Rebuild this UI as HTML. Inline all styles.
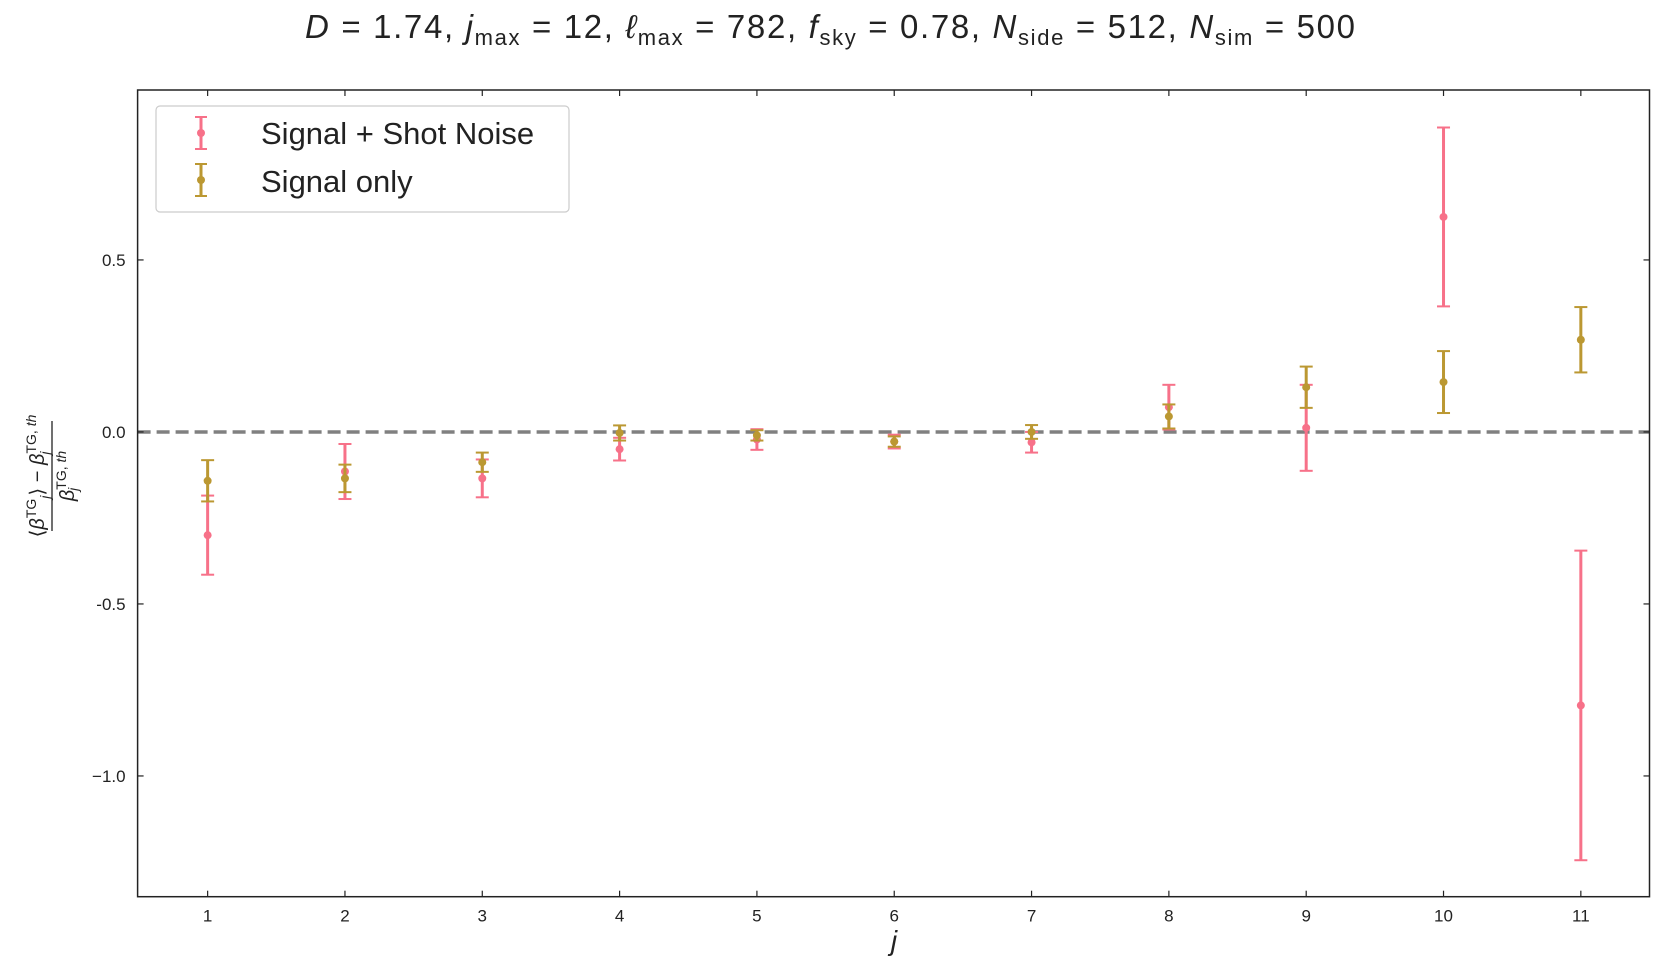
<!DOCTYPE html>
<html><head><meta charset="utf-8"><style>
body{margin:0;background:#fff;}
svg{display:block;font-family:"Liberation Sans","DejaVu Sans",sans-serif;}
</style></head><body>
<svg id="chart" width="1660" height="969" viewBox="0 0 1660 969">
<rect width="1660" height="969" fill="#fff"/>
<text x="830" y="38" text-anchor="middle" font-size="33" fill="#222" textLength="1050" lengthAdjust="spacing"><tspan font-style="italic">D</tspan> = 1.74,  <tspan font-style="italic">j</tspan><tspan font-size="22" dy="7">max</tspan><tspan dy="-7"> = 12,  </tspan><tspan font-style="italic">ℓ</tspan><tspan font-size="22" dy="7">max</tspan><tspan dy="-7"> = 782, </tspan><tspan font-style="italic">f</tspan><tspan font-size="22" dy="7">sky</tspan><tspan dy="-7"> = 0.78,  </tspan><tspan font-style="italic">N</tspan><tspan font-size="22" dy="7">side</tspan><tspan dy="-7"> = 512, </tspan><tspan font-style="italic">N</tspan><tspan font-size="22" dy="7">sim</tspan><tspan dy="-7"> = 500</tspan></text>
<g id="plot"></g>
<g id="legend">
<rect x="156" y="106" width="413" height="106" rx="4" fill="#fff" stroke="#ccc" stroke-width="1.2"/>
<g>
<line x1="201" y1="117" x2="201" y2="149" stroke="#f77189" stroke-width="3"/><line x1="195" y1="117" x2="207" y2="117" stroke="#f77189" stroke-width="2"/><line x1="195" y1="149" x2="207" y2="149" stroke="#f77189" stroke-width="2"/><circle cx="201" cy="133" r="4" fill="#f77189"/>
<text x="261" y="144" font-size="31" fill="#222">Signal + Shot Noise</text></g>
<g>
<line x1="201" y1="164" x2="201" y2="196" stroke="#bb9832" stroke-width="3"/><line x1="195" y1="164" x2="207" y2="164" stroke="#bb9832" stroke-width="2"/><line x1="195" y1="196" x2="207" y2="196" stroke="#bb9832" stroke-width="2"/><circle cx="201" cy="180" r="4" fill="#bb9832"/>
<text x="261" y="192" font-size="31" fill="#222">Signal only</text></g>
</g>
<g transform="translate(52,476) rotate(-90)">
<line x1="-55" y1="0" x2="55" y2="0" stroke="#222" stroke-width="1.3"/>
<text x="0" y="-8" text-anchor="middle" font-size="20" fill="#222">⟨<tspan font-style="italic">β</tspan><tspan font-size="14" dy="-8">TG</tspan><tspan font-size="14" dy="14" font-style="italic">j</tspan><tspan dy="-6">⟩ − </tspan><tspan font-style="italic">β</tspan><tspan font-size="14" dy="-8">TG, </tspan><tspan font-size="14" font-style="italic">th</tspan><tspan font-size="14" dy="14" dx="-40" font-style="italic">j</tspan></text>
<text x="0" y="22" text-anchor="middle" font-size="20" fill="#222"><tspan font-style="italic">β</tspan><tspan font-size="14" dy="-8">TG, </tspan><tspan font-size="14" font-style="italic">th</tspan><tspan font-size="14" dy="12" dx="-40" font-style="italic">j</tspan></text>
</g>
<text x="894" y="950" text-anchor="middle" font-size="28" font-style="italic" fill="#222">j</text>
</svg>
<script>
const categories=[1,2,3,4,5,6,7,8,9,10,11];
const shotNoiseMean=[-0.30,-0.115,-0.135,-0.05,-0.022,-0.028,-0.03,0.072,0.012,0.625,-0.795];
const shotNoiseErr=[0.115,0.08,0.055,0.033,0.03,0.02,0.03,0.065,0.125,0.26,0.45];
const signalMean=[-0.142,-0.135,-0.088,-0.003,-0.01,-0.028,0.0,0.045,0.13,0.145,0.268];
const signalErr=[0.06,0.04,0.028,0.022,0.015,0.015,0.02,0.035,0.06,0.09,0.095];
const yTicks=[-1.0,-0.5,0.0,0.5];
const yTickLabels=["−1.0","-0.5","0.0","0.5"];

const L=137.6,R=1649.5,T=90,B=896.7;
const xMin=0.49,xMax=11.5,yMin=-1.351,yMax=0.994;
const X=v=>L+(v-xMin)/(xMax-xMin)*(R-L);
const Y=v=>B-(v-yMin)/(yMax-yMin)*(B-T);
const NS="http://www.w3.org/2000/svg";
const g=document.getElementById('plot');
function mk(t,a,p){const e=document.createElementNS(NS,t);for(const k in a)e.setAttribute(k,a[k]);(p||g).appendChild(e);return e;}

const zero=mk('line',{x1:L,x2:R,y1:Y(0),y2:Y(0),stroke:'#808080','stroke-width':3.5,'stroke-dasharray':'13,6'});



function series(means,errs,color,name){
  const sg=mk('g',{});
  
  
  categories.forEach((c,i)=>{
    const x=X(c),y1=Y(means[i]+errs[i]),y2=Y(means[i]-errs[i]);
    const eg=mk('g',{},sg);
    
    
    mk('line',{x1:x,x2:x,y1:y1,y2:y2,stroke:color,'stroke-width':3},eg);
    mk('line',{x1:x-6.5,x2:x+6.5,y1:y1,y2:y1,stroke:color,'stroke-width':2},eg);
    mk('line',{x1:x-6.5,x2:x+6.5,y1:y2,y2:y2,stroke:color,'stroke-width':2},eg);
    mk('circle',{cx:x,cy:Y(means[i]),r:4,fill:color},eg);
  });
}
series(shotNoiseMean,shotNoiseErr,'#f77189','signal-shot-noise-series');
series(signalMean,signalErr,'#bb9832','signal-only-series');

const frame=mk('rect',{x:L,y:T,width:R-L,height:B-T,fill:'none',stroke:'#222','stroke-width':1.5});



categories.forEach(c=>{
  const x=X(c);
  mk('line',{x1:x,x2:x,y1:B,y2:B-6,stroke:'#222','stroke-width':1.2});
  mk('line',{x1:x,x2:x,y1:T,y2:T+6,stroke:'#222','stroke-width':1.2});
  const t=mk('text',{x:x,y:B+25,'text-anchor':'middle','font-size':17,fill:'#222'});
  t.textContent=c;
  
  
});
yTicks.forEach((v,i)=>{
  const y=Y(v);
  mk('line',{x1:L,x2:L+6,y1:y,y2:y,stroke:'#222','stroke-width':1.2});
  mk('line',{x1:R,x2:R-6,y1:y,y2:y,stroke:'#222','stroke-width':1.2});
  const t=mk('text',{x:L-12,y:y+6,'text-anchor':'end','font-size':17,fill:'#222'});
  t.textContent=yTickLabels[i];
  
  
});
</script>
</body></html>
